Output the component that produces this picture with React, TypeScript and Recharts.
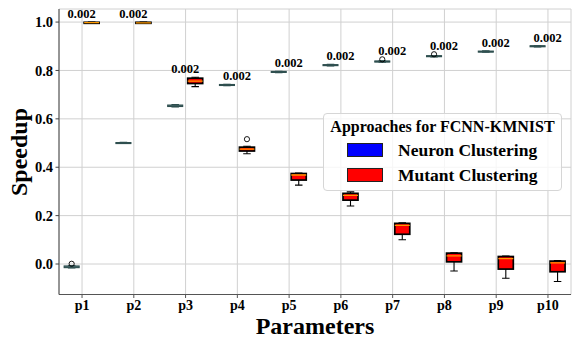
import { ComposedChart, Bar, XAxis, YAxis, CartesianGrid, ReferenceArea } from 'recharts'

const categories = ['p1', 'p2', 'p3', 'p4', 'p5', 'p6', 'p7', 'p8', 'p9', 'p10']

// Neuron Clustering boxes (whisker low, Q1, median, Q3, whisker high)
const neuronLow = [-0.016, 0.498, 0.649, 0.737, 0.791, 0.819, 0.834, 0.856, 0.875, 0.897]
const neuronQ1 = [-0.015, 0.499, 0.651, 0.738, 0.792, 0.82, 0.835, 0.857, 0.876, 0.898]
const neuronMedian = [-0.012, 0.5, 0.654, 0.74, 0.794, 0.822, 0.837, 0.859, 0.878, 0.9]
const neuronQ3 = [-0.008, 0.502, 0.657, 0.742, 0.796, 0.824, 0.839, 0.861, 0.88, 0.902]
const neuronHigh = [-0.006, 0.503, 0.659, 0.743, 0.797, 0.825, 0.84, 0.862, 0.881, 0.903]
const neuronOutlier = [0.001, null, null, null, null, null, 0.846, 0.867, null, null]

// Mutant Clustering boxes
const mutantLow = [0.995, 0.994, 0.733, 0.456, 0.326, 0.24, 0.1, -0.029, -0.059, -0.072]
const mutantQ1 = [0.996, 0.996, 0.746, 0.467, 0.347, 0.264, 0.123, 0.009, -0.021, -0.032]
const mutantMedian = [0.998, 0.997, 0.756, 0.475, 0.368, 0.284, 0.16, 0.034, 0.022, 0.005]
const mutantQ3 = [0.999, 0.999, 0.768, 0.483, 0.374, 0.292, 0.168, 0.045, 0.031, 0.012]
const mutantHigh = [1.0, 1.0, 0.772, 0.487, 0.376, 0.298, 0.17, 0.046, 0.033, 0.014]
const mutantOutlier = [null, null, null, 0.516, null, null, null, null, null, null]

const pValueLabels = ['0.002', '0.002', '0.002', '0.002', '0.002', '0.002', '0.002', '0.002', '0.002', '0.002']
const yTicks = [0, 0.2, 0.4, 0.6, 0.8, 1.0]

const SERIF = '"Liberation Serif", "Times New Roman", serif'
const X_DOMAIN: [number, number] = [0.555, 10.445]
const X_TICKS = categories.map((_, i) => i + 1)

const NEURON_FILL = '#add8e6'
const NEURON_EDGE = '#2f4f4f'
const MUTANT_FILL = '#ff0000'
const MUTANT_EDGE = '#000000'
const MEDIAN_COLOR = '#ff9900'

const range = (v: number | null) => (v == null ? null : [v, v])

const data = categories.map((name, i) => {
  const top = Math.max(neuronHigh[i], mutantHigh[i], neuronOutlier[i] ?? -1, mutantOutlier[i] ?? -1)
  return {
    name,
    pos: i + 1,
    nWhisker: [neuronLow[i], neuronHigh[i]],
    nBox: [neuronQ1[i], neuronQ3[i]],
    nMed: neuronMedian[i],
    nQ1: neuronQ1[i],
    nQ3: neuronQ3[i],
    nOut: range(neuronOutlier[i]),
    mWhisker: [mutantLow[i], mutantHigh[i]],
    mBox: [mutantQ1[i], mutantQ3[i]],
    mMed: mutantMedian[i],
    mQ1: mutantQ1[i],
    mQ3: mutantQ3[i],
    mOut: range(mutantOutlier[i]),
    sigAt: [top, top],
    sig: pValueLabels[i],
  }
})

const whiskerShape = (stroke: string) => (props: any) => {
  const { x, y, width, height } = props
  const cx = x + width / 2
  const cap = width / 4
  return (
    <g stroke={stroke} strokeWidth={1.1}>
      <line x1={cx} x2={cx} y1={y} y2={y + height} />
      <line x1={cx - cap} x2={cx + cap} y1={y} y2={y} />
      <line x1={cx - cap} x2={cx + cap} y1={y + height} y2={y + height} />
    </g>
  )
}

const boxShape = (fill: string, edge: string, edgeWidth: number, median: string, prefix: 'n' | 'm') => (props: any) => {
  const { x, y, width, height, payload } = props
  const q1 = payload[prefix + 'Q1']
  const q3 = payload[prefix + 'Q3']
  const med = payload[prefix + 'Med']
  const my = q3 === q1 ? y : y + (height * (q3 - med)) / (q3 - q1)
  return (
    <g>
      <rect x={x} y={y} width={width} height={Math.max(height, 1)} fill={fill} stroke={edge} strokeWidth={edgeWidth} />
      <line x1={x} x2={x + width} y1={my} y2={my} stroke={median} strokeWidth={1.3} />
    </g>
  )
}

const outlierShape = (key: 'nOut' | 'mOut') => (props: any) => {
  const { x, y, width, payload } = props
  if (payload[key] == null) return <g />
  return <circle cx={x + width / 2} cy={y} r={2.6} fill="none" stroke="#000" strokeWidth={0.9} />
}

const sigShape = (props: any) => {
  const { x, y, width, payload } = props
  return (
    <text x={x + width / 2} y={y - 4} textAnchor="middle" fontFamily={SERIF} fontWeight="bold" fontSize={12.5} fill="#000">
      {payload.sig}
    </text>
  )
}

const hiddenX = (id: string) => (
  <XAxis xAxisId={id} dataKey="pos" type="number" domain={X_DOMAIN} ticks={X_TICKS} allowDataOverflow hide height={0} />
)

function Legend() {
  const row = (top: number, color: string, label: string) => (
    <div style={{ position: 'absolute', left: 0, top, height: 26, width: '100%' }}>
      <div
        style={{
          position: 'absolute',
          left: 23,
          top: 6,
          width: 34,
          height: 12,
          background: color,
          border: '1.5px solid #222',
        }}
      />
      <div style={{ position: 'absolute', left: 74, top: 0, fontSize: 17.5, fontWeight: 'bold', lineHeight: '26px', whiteSpace: 'nowrap' }}>
        {label}
      </div>
    </div>
  )
  return (
    <div
      style={{
        position: 'absolute',
        left: 323,
        top: 113,
        width: 239,
        height: 78,
        boxSizing: 'border-box',
        border: '1px solid #d6d6d6',
        borderRadius: 4,
        background: 'rgba(255,255,255,0.8)',
        fontFamily: SERIF,
        color: '#000',
      }}
    >
      <div style={{ position: 'absolute', left: 0, width: '100%', top: 2, textAlign: 'center', fontSize: 16, fontWeight: 'bold', lineHeight: '22px', whiteSpace: 'nowrap' }}>
        Approaches for FCNN-KMNIST
      </div>
      {row(23, '#0000ff', 'Neuron Clustering')}
      {row(48, '#ff0000', 'Mutant Clustering')}
    </div>
  )
}

export default function App() {
  return (
    <div style={{ position: 'absolute', left: 0, top: 0, width: 580, height: 348, background: '#fff' }}>
      <ComposedChart width={580} height={348} data={data} margin={{ top: 9, right: 9, bottom: 0, left: 0 }} barGap={5}>
        <CartesianGrid xAxisId="a" stroke="#d0d0d0" strokeWidth={1} />
        <XAxis
          xAxisId="a"
          dataKey="pos"
          type="number"
          domain={X_DOMAIN}
          ticks={X_TICKS}
          allowDataOverflow
          height={53.5}
          tickFormatter={(v: number) => categories[v - 1]}
          tick={{ fontFamily: SERIF, fontWeight: 'bold', fontSize: 14, fill: '#000' }}
          tickSize={3.5}
          tickMargin={2.5}
          stroke="#555"
          label={{
            content: () => (
              <text x={315} y={334} textAnchor="middle" fontFamily={SERIF} fontWeight="bold" fontSize={24} fill="#000">
                Parameters
              </text>
            ),
          }}
        />
        {hiddenX('b')}
        {hiddenX('o')}
        {hiddenX('l')}
        <YAxis
          type="number"
          domain={[-0.126, 1.054]}
          ticks={yTicks}
          allowDataOverflow
          width={59}
          tickFormatter={(v: number) => v.toFixed(1)}
          tick={{ fontFamily: SERIF, fontWeight: 'bold', fontSize: 14.5, fill: '#000' }}
          tickSize={3.5}
          tickMargin={2.5}
          stroke="#444"
          label={{
            content: () => (
              <text
                x={27}
                y={152}
                transform="rotate(-90, 27, 152)"
                textAnchor="middle"
                fontFamily={SERIF}
                fontWeight="bold"
                fontSize={24}
                fill="#000"
              >
                Speedup
              </text>
            ),
          }}
        />
        <Bar xAxisId="a" dataKey="nWhisker" barSize={15} isAnimationActive={false} shape={whiskerShape(NEURON_EDGE)} />
        <Bar xAxisId="a" dataKey="mWhisker" barSize={15} isAnimationActive={false} shape={whiskerShape(MUTANT_EDGE)} />
        <Bar
          xAxisId="b"
          dataKey="nBox"
          barSize={15}
          isAnimationActive={false}
          shape={boxShape(NEURON_FILL, NEURON_EDGE, 1.1, NEURON_EDGE, 'n')}
        />
        <Bar
          xAxisId="b"
          dataKey="mBox"
          barSize={15}
          isAnimationActive={false}
          shape={boxShape(MUTANT_FILL, MUTANT_EDGE, 1.7, MEDIAN_COLOR, 'm')}
        />
        <Bar xAxisId="o" dataKey="nOut" barSize={15} isAnimationActive={false} shape={outlierShape('nOut')} />
        <Bar xAxisId="o" dataKey="mOut" barSize={15} isAnimationActive={false} shape={outlierShape('mOut')} />
        <Bar xAxisId="l" dataKey="sigAt" barSize={15} isAnimationActive={false} shape={sigShape} />
        <ReferenceArea xAxisId="a" fill="none" stroke="#333" strokeWidth={1} ifOverflow="visible" />
      </ComposedChart>
      <Legend />
    </div>
  )
}
